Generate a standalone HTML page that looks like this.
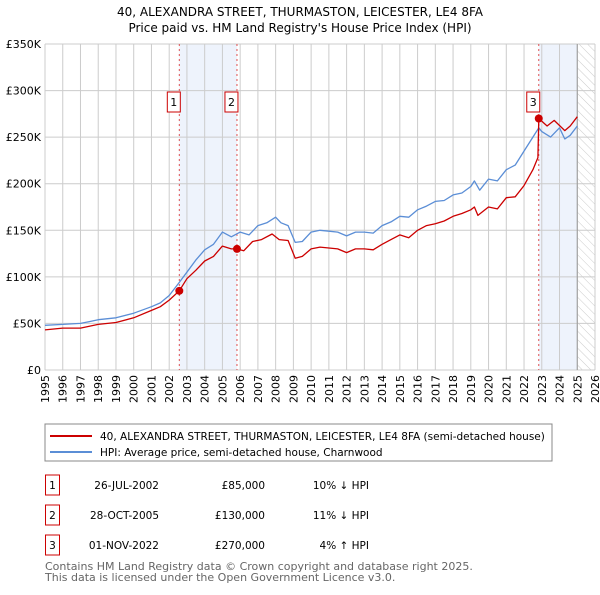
<!DOCTYPE html>
<html><head><meta charset="utf-8"><style>
body{margin:0;background:#fff;font-family:"Liberation Sans","DejaVu Sans",sans-serif}
svg text{font-family:"DejaVu Sans","Liberation Sans",sans-serif}
</style></head><body>
<svg id="c" width="600" height="590" viewBox="0 0 600 590" xmlns="http://www.w3.org/2000/svg">
<text x="300" y="16" text-anchor="middle" font-size="12">40, ALEXANDRA STREET, THURMASTON, LEICESTER, LE4 8FA</text>
<text x="300" y="32" text-anchor="middle" font-size="12">Price paid vs. HM Land Registry's House Price Index (HPI)</text>
<defs><pattern id="hatch" width="6" height="6" patternUnits="userSpaceOnUse" patternTransform="rotate(-45)"><line x1="0" y1="0" x2="0" y2="6" stroke="#ccc" stroke-width="1"/></pattern></defs>
<g id="plot"></g>
<rect x="45" y="424" width="507" height="37" fill="#fff" stroke="#888"/>
<line x1="50" y1="436" x2="92" y2="436" stroke="#cc0000" stroke-width="2"/>
<text x="100" y="440" font-size="10.5">40, ALEXANDRA STREET, THURMASTON, LEICESTER, LE4 8FA (semi-detached house)</text>
<line x1="50" y1="452" x2="92" y2="452" stroke="#5b8ed6" stroke-width="2"/>
<text x="100" y="456" font-size="10.5">HPI: Average price, semi-detached house, Charnwood</text>
<g id="tbl" font-size="10.5"></g>
<text x="45" y="570" font-size="11" fill="#666">Contains HM Land Registry data © Crown copyright and database right 2025.</text>
<text x="45" y="581" font-size="11" fill="#666">This data is licensed under the Open Government Licence v3.0.</text>
</svg>
<script>
const hpiYears=[1995,1996,1997,1997.5,1998,1999,2000,2001,2001.5,2002,2002.57,2003,2003.5,2004,2004.5,2005,2005.5,2006,2006.5,2007,2007.5,2008,2008.3,2008.7,2009.1,2009.5,2010,2010.5,2011,2011.5,2012,2012.5,2013,2013.5,2014,2014.5,2015,2015.5,2016,2016.5,2017,2017.5,2018,2018.5,2019,2019.2,2019.5,2020,2020.5,2021,2021.5,2022,2022.5,2022.83,2023,2023.5,2024,2024.3,2024.6,2025];
const hpiValues=[48,49,50,52,54,56,61,68,72,80,94,105,118,129,135,148,143,148,145,155,158,164,158,155,137,138,148,150,149,148,144,148,148,147,155,159,165,164,172,176,181,182,188,190,197,203,193,205,203,215,220,235,250,260,256,250,260,248,252,262];
const priceYears=[1995,1996,1997,1998,1999,2000,2001,2001.5,2002,2002.57,2003,2003.5,2004,2004.5,2005,2005.5,2005.82,2006.2,2006.7,2007.2,2007.8,2008.2,2008.7,2009.1,2009.5,2010,2010.5,2011,2011.5,2012,2012.5,2013,2013.5,2014,2014.5,2015,2015.5,2016,2016.5,2017,2017.5,2018,2018.5,2019,2019.2,2019.4,2020,2020.5,2021,2021.5,2022,2022.5,2022.78,2022.83,2023.3,2023.7,2024.3,2024.6,2025];
const priceValues=[43,45,45,49,51,56,64,68,75,85,98,107,117,122,133,130,130,128,138,140,146,140,139,120,122,130,132,131,130,126,130,130,129,135,140,145,142,150,155,157,160,165,168,172,175,166,175,173,185,186,198,215,228,270,262,268,257,262,272];
const saleLabels=["1","2","3"];
const saleYears=[2002.57,2005.82,2022.83];
const saleValues=[85,130,270];
const saleDates=["26-JUL-2002","28-OCT-2005","01-NOV-2022"];
const salePrices=["£85,000","£130,000","£270,000"];
const saleHpi=["10% ↓ HPI","11% ↓ HPI","4% ↑ HPI"];
const yTicks=[0,50,100,150,200,250,300,350];
const yTickLabels=["£0","£50K","£100K","£150K","£200K","£250K","£300K","£350K"];
const xTicks=[1995,1996,1997,1998,1999,2000,2001,2002,2003,2004,2005,2006,2007,2008,2009,2010,2011,2012,2013,2014,2015,2016,2017,2018,2019,2020,2021,2022,2023,2024,2025,2026];
const X0=45,X1=595,Y0=370,Y1=44;
const xs=y=>X0+(y-1995)/31*(X1-X0);
const ys=v=>Y0-v/350*(Y0-Y1);
const NS="http://www.w3.org/2000/svg";
const plot=document.getElementById('plot');
function mk(tag,attrs,parent){const e=document.createElementNS(NS,tag);for(const k in attrs)e.setAttribute(k,attrs[k]);(parent||plot).appendChild(e);return e;}
let e;
e=mk('rect',{x:xs(saleYears[0]),y:Y1,width:xs(saleYears[1])-xs(saleYears[0]),height:Y0-Y1,fill:'#eef3fc'});


e=mk('rect',{x:xs(saleYears[2]),y:Y1,width:xs(2025.0)-xs(saleYears[2]),height:Y0-Y1,fill:'#eef3fc'});


e=mk('rect',{x:xs(2025.0),y:Y1,width:X1-xs(2025.0),height:Y0-Y1,fill:'url(#hatch)'});


xTicks.forEach(t=>{
e=mk('line',{x1:xs(t),x2:xs(t),y1:Y1,y2:Y0,stroke:'#ccc','stroke-width':1});


const tx=mk('text',{x:0,y:0,'font-size':11,'text-anchor':'end',transform:`translate(${xs(t)+4},${Y0+5}) rotate(-90)`});
tx.textContent=t;


});
yTicks.forEach((t,i)=>{
e=mk('line',{x1:X0,x2:X1,y1:ys(t),y2:ys(t),stroke:'#ccc','stroke-width':1});


const tx=mk('text',{x:41,y:ys(t)+4,'font-size':11,'text-anchor':'end'});
tx.textContent=yTickLabels[i];


});
e=mk('line',{x1:xs(2025.0),x2:xs(2025.0),y1:Y1,y2:Y0,stroke:'#999','stroke-width':1});


saleYears.forEach((s,i)=>{
e=mk('line',{x1:xs(s),x2:xs(s),y1:Y1,y2:Y0,stroke:'#e05050','stroke-width':1,'stroke-dasharray':'2,3'});


});
function path(xa,va,col,name){
const d=xa.map((x,i)=>(i?'L':'M')+xs(x).toFixed(1)+','+ys(va[i]).toFixed(1)).join('');
const p=mk('path',{d,fill:'none',stroke:col,'stroke-width':1.3,'stroke-linejoin':'round'});


}
path(hpiYears,hpiValues,'#5b8ed6','hpi-line');
path(priceYears,priceValues,'#cc0000','price-line');
saleYears.forEach((s,i)=>{
e=mk('circle',{cx:xs(s),cy:ys(saleValues[i]),r:4,fill:'#cc0000'});


const bx=xs(s)-11;
e=mk('rect',{x:bx-1,y:92,width:13,height:20,fill:'#fff',stroke:'#cc0000'});


const tx=mk('text',{x:bx+5.5,y:106,'font-size':11,'text-anchor':'middle'});
tx.textContent=saleLabels[i];


});
const tbl=document.getElementById('tbl');
saleLabels.forEach((l,i)=>{
const y=475+i*30;
e=mk('rect',{x:45.5,y:y,width:14,height:20,fill:'#fff',stroke:'#cc0000'},tbl);


const cells=[[52.5,l,'middle','table-badge-label'],[159,saleDates[i],'end','table-date'],[265,salePrices[i],'end','table-price'],[369,saleHpi[i],'end','table-hpi-diff']];
cells.forEach(c=>{
const t=mk('text',{x:c[0],y:y+14,'text-anchor':c[2]},tbl);
t.textContent=c[1];


});
});
</script>
</body></html>
